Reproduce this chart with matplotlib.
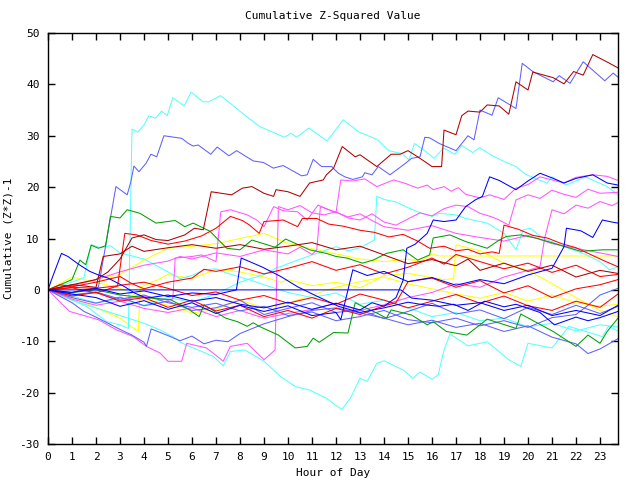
import matplotlib
matplotlib.use("Agg")
import matplotlib.pyplot as plt

# ---- data (hours, cumulative value) ----
cyan_top_x = [0,0.5,1,1.6,2.45,3.0,3.35,3.5,3.74,4.0,4.2,4.48,4.73,4.97,5.2,5.68,5.96,6.46,6.7,7.19,7.6,8.2,8.82,9.85,10.12,10.36,10.87,11.63,12.3,12.93,13.74,14.2,14.77,15.04,15.27,15.66,16.09,16.48,16.95,17.25,17.7,17.98,18.52,19.0,19.5,19.9,20.4,20.8,21.0,21.6,22.4,23.3,23.75]
cyan_top_y = [0,-1,-2,-3.2,-6.2,-6.8,-7.5,31.3,30.7,32.1,33.9,33.4,34.8,33.9,37.4,35.8,38.5,36.6,36.6,37.8,36.3,34,31.8,29.7,30.5,29.7,31.5,29.0,33.1,30.8,29.2,27.1,26.5,25.3,28.5,27.2,25.6,27.6,26.4,28.1,26.7,27.7,26.1,25,24,22.5,21.5,20.8,22,20.4,22,20.1,18.5]

slate_top_x = [0,0.5,1,1.5,2.1,2.83,3.3,3.45,3.58,3.79,4.08,4.29,4.53,4.83,5.57,5.85,6.05,6.26,6.78,7.05,7.54,7.86,8.55,8.97,9.39,9.8,10.57,10.8,11.05,11.4,11.82,12.1,12.37,12.7,13.1,13.2,13.5,13.76,14.25,14.8,15.15,15.5,15.7,15.9,16.3,17.0,17.5,17.75,18.0,18.5,18.76,19.5,19.76,20.2,21.05,21.3,21.75,22.3,23.2,23.55,23.75]
slate_top_y = [0,-0.5,-0.5,0,0.5,20.1,18.5,21.0,24.1,23.0,24.6,26.4,25.9,30.0,29.5,28.5,28.0,28.2,26.4,27.8,26.1,27.1,25.1,24.8,23.7,24.2,22.2,22.4,25.4,24.0,24.0,22.7,22.0,21.5,22.0,22.8,22.4,24.0,22.4,24.3,25.6,25.9,29.7,29.6,28.5,27.1,30.0,29.2,35.0,34.0,37.4,35.3,44.1,42.5,40.5,41.7,40.2,44.4,40.7,42.2,41.4]

darkred_top_x = [0,1,2,2.5,3,3.5,4,4.5,5,5.7,6.1,6.47,6.8,7.65,8.1,8.5,9.0,9.4,9.5,10.0,10.5,10.9,11.47,11.6,11.9,12.26,12.8,13.0,13.7,14.3,14.67,15.0,15.5,16.0,16.4,16.5,17.0,17.24,17.5,18.0,18.3,18.8,19.2,19.5,20.0,20.2,21.05,21.5,21.9,22.3,22.7,23.4,23.75]
darkred_top_y = [0,1,2,3.5,6,10.1,10.7,9.8,9.6,10.7,12.0,11.7,19.1,18.5,19.8,20.1,18.8,18.2,19.5,19.1,18.2,20.8,21.4,22.4,23.7,27.9,25.9,26.3,24.0,26.4,26.4,27.1,25.6,24.0,24.0,31.1,30.2,33.9,34.8,34.6,36.0,35.8,34.2,40.5,38.9,42.4,41.3,40.1,42.5,41.8,45.8,44.1,43.2]

darkred_mid_x = [0,1,2,2.3,3,3.5,4,5,6,7,8,9,10,11,12,13,14,15,16,17,17.5,18,19,20,21,22,23,23.75]
darkred_mid_y = [0,1,0.5,6.5,7.0,8.5,7.5,8.2,8.8,8.1,8.8,7.9,8.5,9.2,7.8,8.5,6.8,5.1,5.9,4.7,6.0,3.8,5.2,3.6,4.8,2.5,3.8,3.2]

blue_flat_x = [0,0.3,14.7,15.15,16,17,18,19,20,21,22,23,23.75]
blue_flat_y = [0,0,0,-1.6,-2,-3,-2.5,-4,-3,-5,-4,-5,-3]

blue_a_x = [0,0.14,0.56,0.83,1.3,1.74,2.1,2.5,3.2,3.6,4.1,5,6,7,8,9,10,11,12,13,13.5,14,14.5,14.8,14.95,15.3,15.8,16.05,16.5,17,17.4,17.8,18.1,18.4,18.8,19.5,20.0,20.5,21,21.5,22,22.7,23.3,23.75]
blue_a_y = [0,1.9,7.1,6.5,4.9,3.6,2.9,2.3,0.6,-0.6,-1.6,-1.0,-2.2,-1.5,-2.8,-3.5,-2.4,-3.8,-2.6,-3.9,-2.5,-3.2,-1.5,1.9,8.1,8.9,11.0,13.6,13.3,13.6,16.2,17.5,18.2,22.0,21.3,19.5,21.2,22.7,21.8,20.8,21.7,22.4,20.8,20.4]

blue_b_x = [0,1,2,3,4,5,6,7,7.85,8.05,8.9,9.7,10.4,11.1,12.1,13,14,15,15.5,16.3,16.9,17.5,18.2,19,19.5,20.5,21.1,22,22.5,23,23.75]
blue_b_y = [0,-0.5,0.3,-0.8,-0.2,-1.3,-0.6,-0.9,0,6.2,4.5,2.6,0.6,-1.0,-3.2,-4.4,-3.5,-2.4,-2.8,-3.2,-2.8,-4.0,-2.2,-3.3,-2.8,-4.4,-6.8,-5.3,-6.0,-5.4,-4.2]

blue_c_x = [0,1,2,3,4,5,6,7,8,9,10,11,12,12.2,12.7,13.3,14,15,16,17,18,19,20,21,21.5,21.6,22.2,22.7,23.1,23.5,23.75]
blue_c_y = [0,-0.8,-1.5,-3.2,-2.1,-3.8,-2.5,-4.6,-3.0,-4.2,-3.1,-5.0,-4.4,-5.8,3.9,2.8,3.6,1.6,2.4,0.9,2.0,1.2,2.9,4.2,8.4,12.0,11.5,10.2,13.6,13.2,13.0]

green_top_x = [0,0.5,1.0,1.33,1.57,1.8,2.1,2.4,2.6,3.0,3.3,3.83,4.5,5.3,5.7,6.05,6.75,7.45,8.0,8.5,9.46,9.9,10.9,11.6,12.0,12.45,13.1,13.55,14.1,14.8,15.4,15.9,16.05,16.75,17.4,18.3,18.8,19.1,19.7,20.4,21.05,22.2,23.1,23.75]
green_top_y = [0,1,2,5.8,4.9,8.7,8.1,8.6,14.3,14.0,15.6,14.9,13.0,13.5,12.3,13.0,11.4,8.1,7.8,9.7,8.3,9.9,7.8,7.1,6.5,6.2,5.2,5.8,7.1,7.8,5.8,6.8,10.1,10.7,9.4,8.1,9.7,10.4,10.7,10.0,9.1,7.5,7.8,7.8]

green_low_x = [0,1,2,3,4,5.1,5.8,6.3,6.5,7.4,7.9,8.3,8.55,8.8,9.6,10.3,10.8,11.05,11.3,11.9,12.5,12.8,13.1,13.7,14.1,14.3,15.15,15.8,16.05,16.6,17.45,18.3,19.5,19.7,21.05,22.0,22.5,23.0,23.3,23.75]
green_low_y = [0,-0.5,0,-1,-1.5,-1.9,-3.6,-5.2,-2.9,-5.5,-6.2,-7.1,-6.4,-7.1,-8.8,-11.3,-11.0,-9.4,-10.2,-8.3,-8.4,-2.5,-3.2,-4.5,-5.5,-3.9,-4.9,-6.8,-6.2,-8.1,-8.8,-5.7,-7.5,-4.7,-8.1,-11.0,-8.8,-10.4,-8.1,-5.5]

red_a_x = [0,1,2,2.9,3.2,3.7,4.3,5,5.7,6.4,7,7.6,8.1,8.4,8.8,9.0,9.8,10.4,10.6,11.2,11.7,12.3,13,13.6,14.2,14.8,15.4,15.9,16.5,17,17.5,18,18.5,18.8,19.0,19.6,20.2,20.8,21.4,22,22.6,23.2,23.75]
red_a_y = [0,0.5,0.3,0.8,11,10.7,9.6,8.9,9.5,10.5,12,14.3,13.5,12.6,11,13.3,13.6,12.3,13.9,13.9,12.8,12.4,11.6,11.2,10.3,10.8,9.5,8.1,8.5,7.6,7.9,7.0,7.4,7.1,12.6,11.8,10.6,10.1,9.0,8.2,6.9,5.6,4.5]

red_b_x = [0,0.5,1,2,3,3.5,4,5,6,6.5,7,8,9,10,11,12,13,14,15,16,16.5,17,18,19,20,21,22,23,23.75]
red_b_y = [0,1,0.6,1.5,2.6,1.2,0.2,1.5,2.3,4,3.6,4.5,3.1,4.2,5.5,3.8,4.9,3.1,4.4,6.2,5.0,6.9,5.5,4.1,5.2,3.4,4.8,2.6,3.0]

red_c_x = [0,1,2,3,4,5,6,7,8,9,10,11,12,13,14,14.5,15,16,17,18,19,20,21,22,23,23.75]
red_c_y = [0,-1.2,-0.5,-2.2,-1.5,-3.4,-2.0,-4.1,-3.0,-5.2,-4.0,-5.5,-3.6,-4.8,-3.1,-2.5,1.6,2.3,0.5,1.8,-0.6,0.8,-1.5,0.2,1.0,2.0]

red_d_x = [0,1,2,3,4,5,6,7,8,9,10,11,12,13,14,15,16,17,18,19,20,21,22,23,23.75]
red_d_y = [0,0.4,-0.6,0.9,1.5,0.3,-1.1,-0.4,-2.0,-1.1,-2.6,-1.5,-2.8,-0.8,-2.0,-3.5,-2.2,-0.9,-2.6,-1.2,-3.1,-4.0,-2.2,-3.4,-0.8]

slate_a_x = [0,1,1.5,2,2.5,3,3.5,4,4.1,4.3,5,5.5,6,6.5,7,7.5,8,9,10,11,12,13,14,15,16,17,18,19,20,21,22,22.5,23,23.75]
slate_a_y = [0,-2.5,-4.2,-5.3,-6.5,-7.7,-8.8,-10.2,-11.0,-7.6,-8.9,-9.9,-9.0,-10.5,-9.8,-10.1,-8.5,-6.6,-5.2,-4.0,-3.5,-4.5,-5.5,-6.8,-5.9,-7.3,-6.5,-8.1,-7.0,-9.2,-10.5,-12.4,-11.5,-9.5]

slate_b_x = [0,1,2,3,4,5,6,7,8,9,10,11,12,13,14,15,16,17,18,19,20,21,22,23,23.75]
slate_b_y = [0,-1.5,-2.6,-1.4,-3.1,-2.2,-4.0,-3.5,-2.0,-4.8,-3.6,-2.5,-4.4,-3.9,-5.6,-4.2,-2.6,-4.7,-3.9,-5.6,-3.4,-4.8,-3.0,-4.6,-3.2]

slate_c_x = [0,1,2,3,4,5,6,7,8,9,10,11,12,13,14,15,16,17,18,19,20,21,22,22.5,23,23.75]
slate_c_y = [0,-1,-0.4,-1.8,-1.0,-2.5,-3.4,-2.6,-4.1,-3.2,-5.0,-4.3,-6.0,-5.2,-4.0,-5.8,-6.4,-5.5,-7.0,-6.0,-7.3,-5.4,-4.8,-3.0,-1.0,0.3]

magenta_low_x = [0,0.9,2.1,2.86,3.55,4.1,4.67,5.0,5.57,5.78,6.6,6.96,7.3,7.6,8.3,9.0,9.46,9.6,10,10.5,11,11.5,12,12.5,13,13.5,14,14.5,15,15.5,16,16.5,17,17.5,18,18.5,18.8,19.2,19.5,20,20.5,21,21.5,22,22.5,23,23.75]
magenta_low_y = [0,-4.2,-5.8,-7.8,-9.1,-11.0,-12.3,-13.9,-13.9,-10.4,-11.3,-12.6,-13.9,-11.0,-10.4,-13.6,-11.7,16.2,15.6,16.4,15.0,14.6,15.2,14.0,13.6,14.8,13.2,12.6,13.8,15.0,14.4,15.8,16.5,16.2,14.9,14.2,13.6,12.6,17.5,18.5,17.8,19.4,18.6,18.0,19.6,18.8,19.0]

magenta_a_x = [0,1,2,3,4,5,5.2,5.3,6,6.4,7.0,7.2,7.6,8.3,8.7,9.0,9.4,9.8,10.4,10.8,11.25,11.7,12.0,12.2,12.7,13.2,13.7,14.4,14.9,15.4,15.8,16.05,16.5,16.8,17.1,17.4,18.0,18.4,19.0,19.5,20.0,20.5,21.0,21.5,22.0,22.7,23.3,23.75]
magenta_a_y = [0,-1,-0.5,-2,-1.2,-2.0,-1.8,6.2,6.5,6.8,5.5,15.2,15.6,14.6,13.6,12.3,16.2,15.4,15.2,13.6,16.5,15.6,15.0,21.4,21.2,21.6,20.1,21.4,20.7,19.8,20.4,19.5,20.1,19.2,19.9,18.6,17.9,18.5,17.6,19.8,20.5,22.0,21.4,20.8,21.9,22.4,22.1,21.3]

magenta_b_x = [0,1,2,3,4,5,5.5,6,7,8,9,10,10.5,11.0,11.2,11.35,12,12.5,13,13.5,14,15,16,17,18,19,20,21,22,23,23.75]
magenta_b_y = [0,0.8,2.0,3.5,4.8,5.6,6.5,6.0,7.2,6.5,7.8,7.0,8.3,6.9,7.8,16.2,15.1,14.2,14.8,13.5,12.3,11.6,12.5,11.0,10.2,9.5,10.6,9.0,8.1,7.2,6.5]

magenta_c_x = [0,1,2,3,4,5,6,7,8,9,10,11,12,13,14,15,16,17,18,19,20,20.5,20.7,21.0,21.5,22,22.5,23,23.5,23.75]
magenta_c_y = [0,-1.8,-3.0,-2.2,-3.6,-4.4,-3.5,-5.2,-4.0,-5.5,-4.6,-3.8,-2.6,-4.0,-2.9,-1.5,-0.5,1.2,0.5,2.5,3.8,4.5,10.2,15.6,14.8,16.5,15.9,17.2,16.4,17.0]

cyan_low_x = [0,1,2,3,4.0,4.67,5.2,5.6,6.26,6.9,7.3,7.6,8.2,9.0,9.7,10.3,10.9,11.6,12.24,12.6,13.0,13.3,13.7,14.0,14.8,15.2,15.5,16.0,16.26,16.5,16.75,17.5,18.3,19.2,19.7,20.0,21.0,21.7,23.1,23.35,23.75]
cyan_low_y = [0,-2,-3.5,-5,-6.5,-7.8,-9.1,-10.4,-11.7,-13.0,-14.8,-12.0,-11.7,-13.9,-16.9,-18.8,-19.5,-21.1,-23.3,-21.1,-17.2,-17.8,-14.3,-13.8,-15.6,-17.2,-16.0,-17.4,-16.5,-11.7,-8.6,-10.9,-10.1,-13.6,-14.9,-10.4,-11.3,-7.1,-9.1,-7.1,-8]

cyan_mid_x = [0,1,2,3,4,5,6,7,8,9,9.5,10,11,12,12.5,13,13.6,13.7,14,14.5,15,15.5,16,16.3,17,17.4,18.3,19.0,19.5,19.8,20.1,20.6,21.5,22.3,23.0,23.4,23.75]
cyan_mid_y = [0,-1.2,-2.5,-1.8,-3.0,-1.5,-2.4,-0.8,1.5,3.0,4.2,5.1,6.8,8.4,7.6,8.2,9.7,18.2,17.6,17.1,16.0,15.0,14.3,14.9,14.6,13.9,13.0,11.0,7.8,11.7,12.0,10.1,8.4,7.1,5.5,3.9,4.5]

cyan_b_x = [0,0.5,1,1.5,1.8,2.2,2.6,3,4,5,5.5,6,6.5,7,7.5,8,8.5,9,10,11,12,13,14,15,16,17,18,19,20,21,22,23,23.75]
cyan_b_y = [0,0.8,1.5,2.4,8.8,8.2,8.6,7.2,6.0,3.5,2.2,2.8,3.9,4.1,3.2,2.5,1.8,1.0,-0.5,-1.5,-0.6,-2.8,-2.0,-3.5,-5.2,-4.4,-6.0,-5.5,-7.2,-6.5,-8.0,-6.8,-7.2]

yellow_a_x = [0,1,2,3,4,5,6,7,8,9,10,11,12,13,14,15,15.5,16.0,16.3,23.75]
yellow_a_y = [0,1,2,3,5.8,8.1,8.5,9,10,11,9,8,7,6,5.5,6,5.5,7,6.6,6.6]

yellow_b_x = [0,1,2,3,3.76,3.85,4.5,5,6,7,8,9,9.7,10,11,12,13,14,15,16,16.5,16.9,17,18,19,20,21,22,23,23.75]
yellow_b_y = [0,-1.5,-3.5,-5.5,-8.1,0.5,1.8,3.0,2.2,4.0,3.5,2.5,1.5,2.0,0.8,1.5,0.4,2.8,3.2,2.4,2.0,2.2,8.8,7.6,5.2,3.8,1.2,-1.5,-4.0,-5.2]

yellow_c_x = [0,1,2,3,4,5,6,7,8,9,10,11,12,13,14,15,16,17,18,19,20,21,22,23,23.75]
yellow_c_y = [0,2.5,1.5,0.3,-1.8,-3.0,-4.5,-3.8,-2.0,-3.5,-2.6,-1.0,0.5,1.6,2.5,1.2,0.2,-0.8,-1.6,-0.5,-2.2,-1.0,-2.5,-3.2,-2.8]

colors = {
    "red": "#ff0000", "darkred": "#b00000", "green": "#00a000", "blue": "#0000ff",
    "slate": "#6060ff", "magenta": "#ff55ff", "cyan": "#55ffff", "yellow": "#ffff00",
}

series = [
    (yellow_a_x, yellow_a_y, "yellow"),
    (yellow_b_x, yellow_b_y, "yellow"),
    (yellow_c_x, yellow_c_y, "yellow"),
    (cyan_b_x, cyan_b_y, "cyan"),
    (cyan_mid_x, cyan_mid_y, "cyan"),
    (cyan_low_x, cyan_low_y, "cyan"),
    (cyan_top_x, cyan_top_y, "cyan"),
    (magenta_a_x, magenta_a_y, "magenta"),
    (magenta_b_x, magenta_b_y, "magenta"),
    (magenta_c_x, magenta_c_y, "magenta"),
    (magenta_low_x, magenta_low_y, "magenta"),
    (slate_a_x, slate_a_y, "slate"),
    (slate_b_x, slate_b_y, "slate"),
    (slate_c_x, slate_c_y, "slate"),
    (slate_top_x, slate_top_y, "slate"),
    (green_top_x, green_top_y, "green"),
    (green_low_x, green_low_y, "green"),
    (red_a_x, red_a_y, "red"),
    (red_b_x, red_b_y, "red"),
    (red_c_x, red_c_y, "red"),
    (red_d_x, red_d_y, "red"),
    (darkred_mid_x, darkred_mid_y, "darkred"),
    (darkred_top_x, darkred_top_y, "darkred"),
    (blue_a_x, blue_a_y, "blue"),
    (blue_b_x, blue_b_y, "blue"),
    (blue_c_x, blue_c_y, "blue"),
    (blue_flat_x, blue_flat_y, "blue"),
]

fig = plt.figure(figsize=(6.4, 4.8), dpi=100)
ax = fig.add_axes([48/640, 36/480, 570/640, 411/480])
for xs, ys, c in series:
    ax.plot(xs, ys, color=colors[c], lw=0.75)

ax.set_xlim(0, 23.75)
ax.set_ylim(-30, 50)
ax.set_xticks(range(0, 24))
ax.set_yticks(range(-30, 51, 10))
font = dict(family="DejaVu Sans Mono", size=8)
ax.set_xticklabels([str(i) for i in range(24)], **font)
ax.set_yticklabels([str(v) for v in range(-30, 51, 10)], **font)
ax.tick_params(direction="in", top=True, right=True, length=5, width=1, pad=6)
for s in ax.spines.values():
    s.set_linewidth(1.0)
ax.set_title("Cumulative Z-Squared Value", pad=10, **font)
ax.set_xlabel("Hour of Day", **font)
ax.set_ylabel("Cumulative (Z*Z)-1", labelpad=4, **font)
fig.savefig("out.png", dpi=100)
